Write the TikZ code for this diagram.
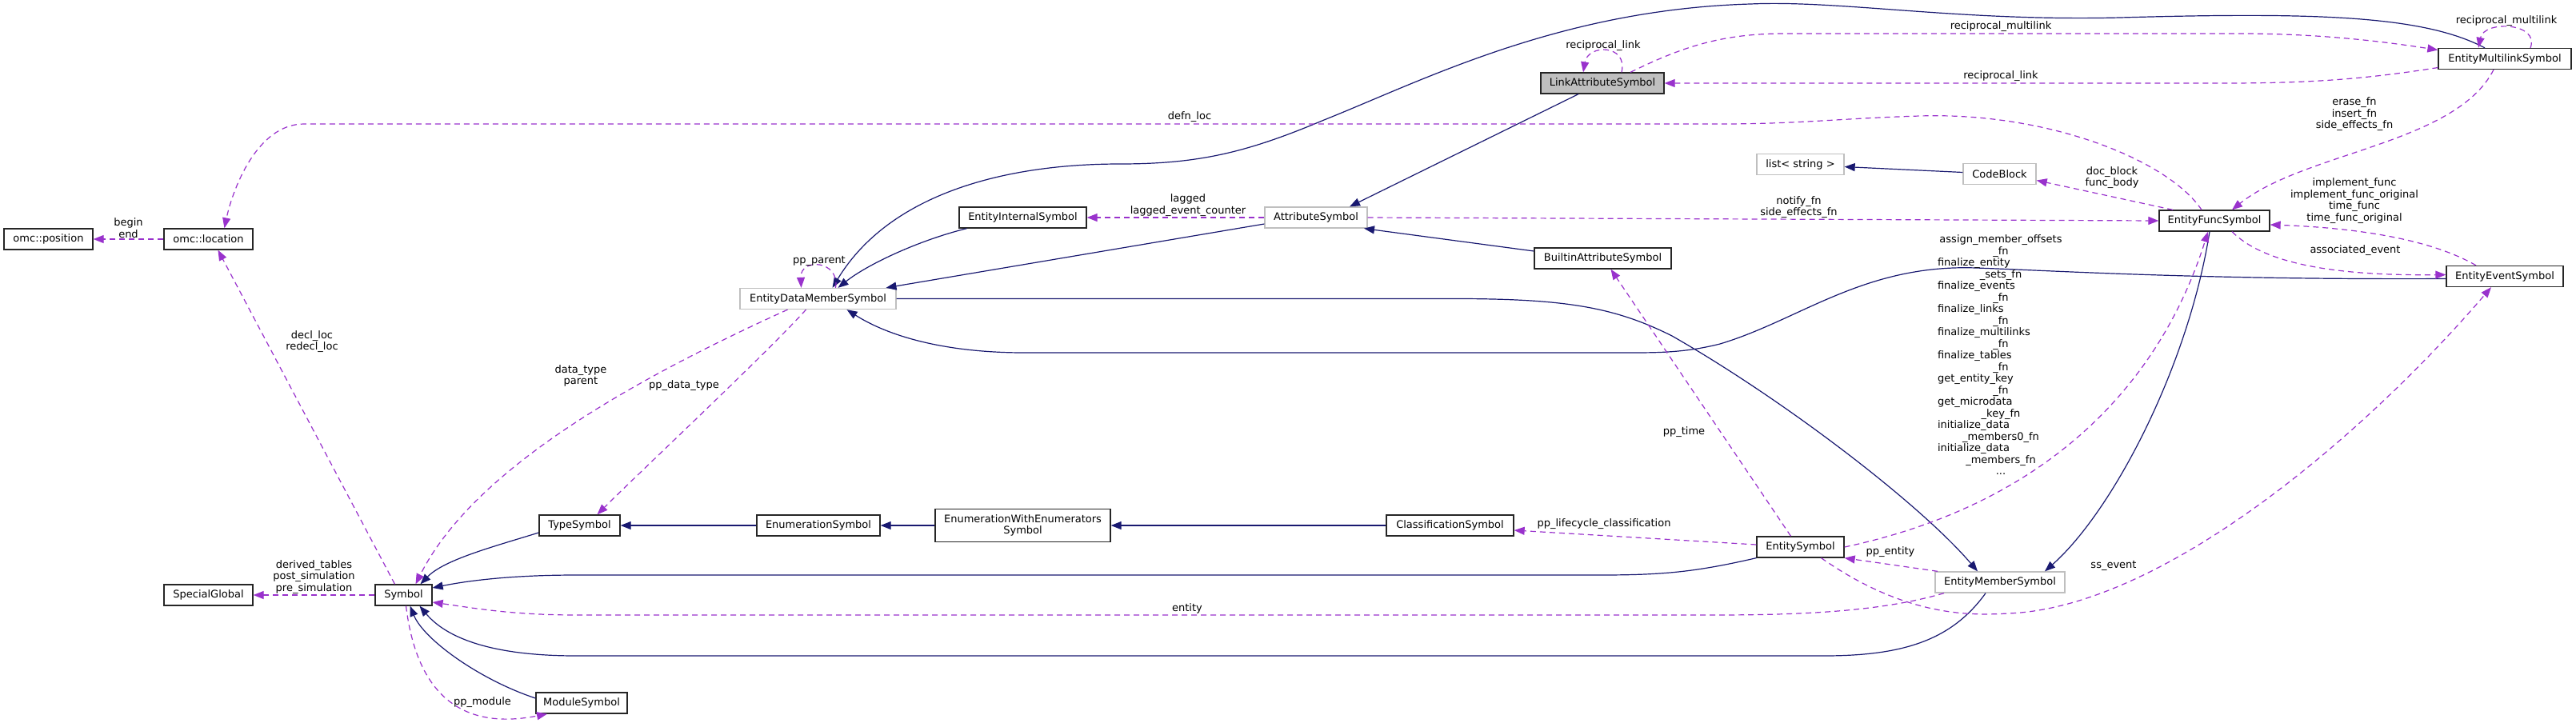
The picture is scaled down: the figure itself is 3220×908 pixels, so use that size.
\documentclass[tikz,border=0pt]{standalone}
\usepackage{fontspec}
\setmainfont{DejaVu Sans}
\usetikzlibrary{arrows.meta}
\definecolor{dblue}{HTML}{191970}
\definecolor{dorchid}{HTML}{9932CC}
\definecolor{docgray}{HTML}{BFBFBF}
\newcommand{\lbl}{\fontsize{13}{14.5}\selectfont}
\newcommand{\lftline}[1]{\makebox[158pt][l]{#1}}
\tikzset{cls/.style={draw=black!85,fill=white,line width=1.3pt,minimum height=26pt,inner sep=0pt,font=\lbl},
undoc/.style={cls,draw=docgray},
mainnode/.style={cls,fill=docgray},
inh/.style={draw=dblue,line width=1.2pt,-{Triangle[length=13pt,width=10pt]}},
use/.style={draw=dorchid,line width=1.2pt,dash pattern=on 7pt off 5pt,-{Triangle[length=13pt,width=10pt]}},
lab/.style={font=\lbl,align=center,inner sep=1pt}}
\begin{document}
\begin{tikzpicture}[x=1pt,y=-1pt]
\useasboundingbox (0,0) rectangle (3220,908);
% classes
\node[cls,minimum width=111pt] (pos) at (60.5,299) {omc::position};
\node[cls,minimum width=111pt] (loc) at (260.5,299) {omc::location};
\node[cls,minimum width=111pt] (special) at (260.5,744) {SpecialGlobal};
\node[cls,minimum width=71pt] (symbol) at (504.5,744) {Symbol};
\node[cls,minimum width=114pt] (module) at (727,879) {ModuleSymbol};
\node[cls,minimum width=101pt] (typesym) at (724.5,657) {TypeSymbol};
\node[cls,minimum width=154pt] (enumsym) at (1023,657) {EnumerationSymbol};
\node[cls,minimum width=219pt,minimum height=41pt,align=center] (enumwe) at (1278.5,657) {EnumerationWithEnumerators\\Symbol};
\node[cls,minimum width=159pt] (classif) at (1812.5,657) {ClassificationSymbol};
\node[cls,minimum width=109pt] (entity) at (2250.5,684) {EntitySymbol};
\node[undoc,minimum width=162pt] (entmember) at (2500,728) {EntityMemberSymbol};
\node[undoc,minimum width=195pt] (edms) at (1022.5,373.5) {EntityDataMemberSymbol};
\node[cls,minimum width=159pt] (entint) at (1278.5,272) {EntityInternalSymbol};
\node[undoc,minimum width=128pt] (attrib) at (1645,272) {AttributeSymbol};
\node[cls,minimum width=171pt] (builtin) at (2003.5,323) {BuiltinAttributeSymbol};
\node[mainnode,minimum width=154pt] (linkattr) at (2003,104) {LinkAttributeSymbol};
\node[undoc,minimum width=109pt] (liststr) at (2250.5,205.5) {list< string >};
\node[undoc,minimum width=91pt] (codeblock) at (2499.5,217.5) {CodeBlock};
\node[cls,minimum width=138pt] (efunc) at (2768,276) {EntityFuncSymbol};
\node[cls,minimum width=166pt] (emulti) at (3131,73.5) {EntityMultilinkSymbol};
\node[cls,minimum width=146pt] (eevent) at (3131,345.5) {EntityEventSymbol};
% inheritance
\draw[inh] ([yshift=-9pt]typesym.west) .. controls (615,684) and (555,700) .. ([xshift=21pt]symbol.north);
\draw[inh] (enumsym) -- (typesym);
\draw[inh] (enumwe) -- (enumsym);
\draw[inh] (classif) -- (enumwe);
\draw[inh] (entity.south west) .. controls (2120,715) and (2080,719) .. (2000,719) -- (720,719) .. controls (640,719) and (585,726) .. ([yshift=9pt]symbol.east);
\draw[inh] ([xshift=-18pt]entmember.south) .. controls (2440,800) and (2380,820) .. (2280,820) -- (720,820) .. controls (620,820) and (560,800) .. ([xshift=20pt]symbol.south);
\draw[inh] ([yshift=6pt]module.west) .. controls (600,850) and (530,800) .. ([xshift=8pt]symbol.south);
\draw[inh] ([xshift=-70pt]entint.south) .. controls (1150,300) and (1085,330) .. ([xshift=25pt]edms.north);
\draw[inh] ([yshift=-8pt]attrib.west) -- ([xshift=85pt]edms.north);
\draw[inh] ([xshift=-25pt]emulti.north) .. controls (3030,20) and (2900,15) .. (2650,22) .. controls (2450,27) and (2300,0) .. (2188,5) .. controls (1950,12) and (1780,100) .. (1655,150) .. controls (1560,190) and (1500,205) .. (1400,205) .. controls (1250,205) and (1110,245) .. ([xshift=18pt]edms.north);
\draw[inh] ([yshift=-3pt]eevent.west) .. controls (2750,350) and (2560,338) .. (2470,335) .. controls (2330,330) and (2250,400) .. (2150,430) .. controls (2110,440) and (2080,441) .. (2040,441) -- (1280,441) .. controls (1180,441) and (1110,420) .. ([xshift=36pt]edms.south);
\draw[inh] (edms.east) -- (1820,373.5) .. controls (1960,373.5) and (2020,385) .. (2090,420) .. controls (2230,500) and (2400,630) .. ([xshift=-28pt]entmember.north);
\draw[inh] ([xshift=-6pt]efunc.south) .. controls (2735,460) and (2640,640) .. ([xshift=56pt]entmember.north);
\draw[inh] ([xshift=-30pt]linkattr.south) -- ([xshift=42pt]attrib.north);
\draw[inh] ([yshift=9pt]builtin.west) -- ([xshift=60pt]attrib.south);
\draw[inh] ([yshift=2pt]codeblock.west) -- ([yshift=-3pt]liststr.east);
% usage
\draw[use] (loc) -- node[lab,above] (l-pos) {begin\\end} (pos);
\draw[use] (symbol) -- node[lab,above] (l-glob) {derived\_tables\\post\_simulation\\pre\_simulation} (special);
\draw[use] ([xshift=-11pt]symbol.north) -- ([xshift=12pt]loc.south);
\node[lab] (l-decl) at (390,427) {decl\_loc\\redecl\_loc};
\draw[use] ([xshift=-16pt]efunc.north) .. controls (2710,200) and (2560,140) .. (2400,145) .. controls (2300,148) and (2250,155) .. (2150,155) -- (380,155) .. controls (320,155) and (290,240) .. ([xshift=20pt]loc.north);
\node[lab] (l-defn) at (1487,146) {defn\_loc};
\draw[use] ([xshift=-38pt]edms.south) .. controls (780,480) and (590,590) .. ([xshift=15pt]symbol.north);
\node[lab] (l-dtype) at (726,470) {data\_type\\parent};
\draw[use] ([xshift=-15pt]edms.south) .. controls (960,440) and (800,590) .. ([xshift=22pt]typesym.north);
\node[lab] (l-ppdt) at (855,482) {pp\_data\_type};
\draw[use] ([xshift=22pt]edms.north) .. controls (1050,325) and (1000,322) .. ([xshift=-21pt]edms.north);
\node[lab] (l-parent) at (1024,326) {pp\_parent};
\draw[use] (attrib) -- node[lab,above,pos=.43] (l-lag) {lagged\\lagged\_event\_counter} (entint);
\draw[use] (attrib.east) -- node[lab,above,pos=.545] (l-notify) {notify\_fn\\side\_effects\_fn} (efunc.west);
\draw[use] ([xshift=24pt]linkattr.north) .. controls (2035,55) and (1985,55) .. ([xshift=-24pt]linkattr.north);
\node[lab] (l-rlink) at (2004,57) {reciprocal\_link};
\draw[use] ([xshift=35pt]linkattr.north) .. controls (2100,60) and (2150,42) .. (2230,42) -- (2800,42) .. controls (2900,42) and (2980,52) .. ([yshift=11pt]emulti.west);
\node[lab] (l-rmulti) at (2501,33) {reciprocal\_multilink};
\draw[use] ([yshift=-11pt]emulti.west) .. controls (2950,100) and (2880,104) .. (2780,104) -- (linkattr.east);
\node[lab] (l-rlink2) at (2501,95) {reciprocal\_link};
\draw[use] ([xshift=32pt]emulti.north) .. controls (3175,28) and (3105,25) .. ([xshift=-33pt]emulti.north);
\node[lab] (l-rmulti2) at (3133,26) {reciprocal\_multilink};
\draw[use] ([xshift=-14pt]emulti.south) .. controls (3070,180) and (2880,190) .. ([xshift=22pt]efunc.north);
\node[lab] (l-erase) at (2943,143) {erase\_fn\\insert\_fn\\side\_effects\_fn};
\draw[use] ([xshift=-52pt]efunc.north) -- ([yshift=-8pt]codeblock.east);
\node[lab] (l-doc) at (2640,222) {doc\_block\\func\_body};
\draw[use] ([xshift=-36pt]eevent.north) .. controls (3040,300) and (2950,285) .. ([yshift=-5pt]efunc.east);
\node[lab] (l-impl) at (2943,251) {implement\_func\\implement\_func\_original\\time\_func\\time\_func\_original};
\draw[use] ([xshift=22pt]efunc.south) .. controls (2830,330) and (2920,345) .. ([yshift=2pt]eevent.west);
\node[lab] (l-assoc) at (2944,313) {associated\_event};
\draw[use] ([yshift=3pt]entity.west) -- ([yshift=-6pt]classif.east);
\node[lab] (l-life) at (2005,655) {pp\_lifecycle\_classification};
\draw[use] (entity.east) .. controls (2560,630) and (2700,480) .. ([xshift=-8pt]efunc.south);
\node[lab] (l-fns) at (2501,444) {assign\_member\_offsets\\\_fn\\\lftline{finalize\_entity}\\\_sets\_fn\\\lftline{finalize\_events}\\\_fn\\\lftline{finalize\_links}\\\_fn\\\lftline{finalize\_multilinks}\\\_fn\\\lftline{finalize\_tables}\\\_fn\\\lftline{get\_entity\_key}\\\_fn\\\lftline{get\_microdata}\\\_key\_fn\\\lftline{initialize\_data}\\\_members0\_fn\\\lftline{initialize\_data}\\\_members\_fn\\...};
\draw[use] ([xshift=-78pt]entmember.north) -- (entity.south east);
\node[lab] (l-ppent) at (2363,690) {pp\_entity};
\draw[use] ([xshift=-70pt]entmember.south) .. controls (2350,765) and (2250,769) .. (2140,769) -- (720,769) .. controls (640,769) and (590,760) .. ([yshift=-9pt]symbol.east);
\node[lab] (l-entity) at (1484,761) {entity};
\draw[use] ([xshift=-12pt]entity.north) -- ([xshift=10pt]builtin.south);
\node[lab] (l-time) at (2105,540) {pp\_time};
\draw[use] ([xshift=26pt]entity.south) .. controls (2380,770) and (2460,770) .. (2510,767) .. controls (2700,760) and (2950,550) .. ([xshift=-17pt]eevent.south);
\node[lab] (l-ss) at (2642,707) {ss\_event};
\draw[use] ([xshift=3pt]symbol.south) .. controls (520,860) and (570,915) .. ([xshift=-43pt]module.south);
\node[lab] (l-mod) at (603,878) {pp\_module};
\end{tikzpicture}
\end{document}
